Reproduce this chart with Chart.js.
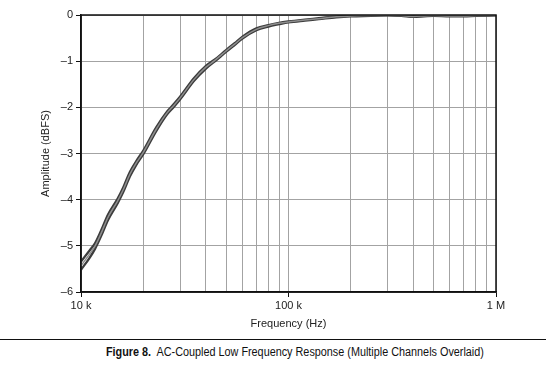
<!DOCTYPE html>
<html>
<head>
<meta charset="utf-8">
<script src="https://cdn.jsdelivr.net/npm/chart.js@4/dist/chart.umd.min.js"></script>
<style>
  body { margin: 0; background: #fff; width: 546px; height: 368px; overflow: hidden; }
  #wrap { position: relative; width: 546px; height: 336px; }
  #rule { position: absolute; left: 0; top: 339px; width: 546px; height: 0; border-top: 1.5px solid #111; }
  #caption { position: absolute; left: 106px; top: 345px; font-family: "Liberation Sans", Arial, sans-serif; font-size: 12px; line-height: 14px; color: #111; white-space: nowrap; transform-origin: 0 0; }
  #caption b { font-weight: bold; }
</style>
</head>
<body>
<div id="wrap"><canvas id="grafica"></canvas></div>
<div id="rule"></div>
<div id="caption"><b>Figure 8.</b>&nbsp; AC-Coupled Low Frequency Response (Multiple Channels Overlaid)</div>
<script>
// frecuencias (Hz)
var freqHz = [10000, 11000, 11700, 12500, 13500, 15000, 16000, 17200, 18500, 20000,
    23000, 26000, 28000, 30000, 35000, 40000, 44000, 50000, 55000, 60000,
    70000, 80000, 90000, 100000, 120000, 140000, 170000, 200000, 250000, 300000,
    350000, 400000, 450000, 500000, 600000, 700000, 800000, 1000000];

// canales superpuestos (dBFS)
var chLow = [-5.52, -5.26, -5.06, -4.79, -4.44, -4.08, -3.83, -3.50, -3.24, -3.01,
    -2.52, -2.15, -1.99, -1.83, -1.43, -1.16, -1.01, -0.80, -0.65, -0.51,
    -0.33, -0.25, -0.20, -0.16, -0.12, -0.09, -0.05, -0.03, -0.02, -0.01,
    -0.02, -0.04, -0.03, -0.02, -0.03, -0.03, -0.02, -0.01];
var chMid = [-5.43, -5.18, -5.00, -4.73, -4.38, -4.03, -3.78, -3.45, -3.20, -2.97,
    -2.48, -2.12, -1.96, -1.80, -1.40, -1.13, -0.99, -0.78, -0.63, -0.49,
    -0.31, -0.23, -0.18, -0.15, -0.11, -0.08, -0.04, -0.02, -0.01, 0.00,
    -0.01, -0.03, -0.02, -0.01, -0.02, -0.02, -0.01, 0.00];
var chHigh = [-5.34, -5.10, -4.94, -4.67, -4.32, -3.98, -3.73, -3.40, -3.16, -2.93,
    -2.44, -2.09, -1.93, -1.77, -1.37, -1.10, -0.97, -0.76, -0.61, -0.47,
    -0.29, -0.22, -0.17, -0.14, -0.10, -0.07, -0.03, -0.01, 0.00, 0.00,
    0.00, -0.02, -0.01, 0.00, -0.01, -0.01, 0.00, 0.00];

// marcas del eje x
var xTicks = [10000, 20000, 30000, 40000, 50000, 60000, 70000, 80000, 90000,
    100000, 200000, 300000, 400000, 500000, 600000, 700000, 800000, 900000, 1000000];
var xLabels = { 10000: "10 k", 100000: "100 k", 1000000: "1 M" };
var yTicks = [0, -1, -2, -3, -4, -5, -6];

function puntos(arr) {
    return freqHz.map(function (f, i) { return { x: f, y: arr[i] }; });
}

// ajustar el ancho del pie de figura (fuente condensada)
var cap = document.getElementById("caption");
cap.style.transform = "scaleX(" + (378 / cap.offsetWidth) + ")";

var fuente = "'Liberation Sans', Arial, sans-serif";

// marco negro alrededor del área
var marco = {
    id: "marco",
    afterDraw: function (chart) {
        var a = chart.chartArea, c = chart.ctx;
        c.save();
        c.strokeStyle = "#111";
        c.lineWidth = 1.5;
        c.strokeRect(a.left, a.top, a.right - a.left, a.bottom - a.top);
        c.restore();
    }
};

var ctx = document.getElementById("grafica").getContext("2d");
var chart = new Chart(ctx, {
    type: "line",
    data: {
        datasets: [
            { label: "Canal A", data: puntos(chLow), borderColor: "#3c3c3c", borderWidth: 2.3, order: 3 },
            { label: "Canal C", data: puntos(chHigh), borderColor: "#3c3c3c", borderWidth: 2.3, order: 2 },
            { label: "Canal B", data: puntos(chMid), borderColor: "#8e8e8e", borderWidth: 1.5, order: 1 }
        ]
    },
    options: {
        responsive: true,
        maintainAspectRatio: false,
        animation: false,
        elements: {
            point: { radius: 0 },
            line: { cubicInterpolationMode: "monotone", fill: false }
        },
        layout: { padding: { left: 0, right: 50, top: 15, bottom: 0 } },
        plugins: { legend: { display: false }, tooltip: { enabled: false } },
        scales: {
            x: {
                type: "logarithmic",
                min: 10000,
                max: 1000000,
                afterBuildTicks: function (axis) {
                    axis.ticks = xTicks.map(function (v) { return { value: v }; });
                },
                afterFit: function (axis) { axis.height = 44; },
                ticks: {
                    autoSkip: false,
                    maxRotation: 0,
                    padding: 2,
                    color: "#222",
                    font: { family: fuente, size: 11 },
                    callback: function (v) { return xLabels[v] || ""; }
                },
                grid: {
                    color: "#a3a3a3",
                    lineWidth: 1,
                    tickLength: 5,
                    tickColor: function (c) { return xLabels[c.tick && c.tick.value] ? "#111" : "rgba(0,0,0,0)"; }
                },
                border: { color: "#111", width: 1.5 },
                title: {
                    display: true,
                    text: "Frequency (Hz)",
                    color: "#222",
                    font: { family: fuente, size: 11 },
                    padding: { top: 0, bottom: 5 }
                }
            },
            y: {
                min: -6,
                max: 0,
                afterBuildTicks: function (axis) {
                    axis.ticks = yTicks.map(function (v) { return { value: v }; });
                },
                afterFit: function (axis) { axis.width = 81; },
                ticks: {
                    padding: 3,
                    color: "#222",
                    font: { family: fuente, size: 11 },
                    callback: function (v) { return v < 0 ? "\u2013" + Math.abs(v) : String(v); }
                },
                grid: { color: "#a3a3a3", lineWidth: 1, tickLength: 5, tickColor: "#111" },
                border: { color: "#111", width: 1.5 },
                title: {
                    display: true,
                    text: "Amplitude (dBFS)",
                    color: "#222",
                    font: { family: fuente, size: 11 },
                    padding: { top: 39, bottom: 0 }
                }
            }
        }
    },
    plugins: [marco]
});
</script>
</body>
</html>
